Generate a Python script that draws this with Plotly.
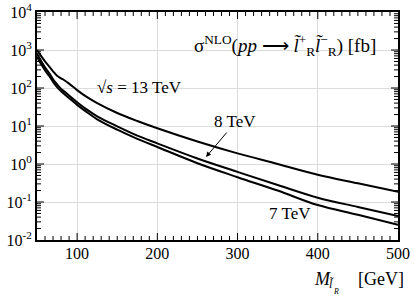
import plotly.graph_objects as go

mass = [50, 55, 60, 65, 70, 75, 80, 85, 90, 100, 110, 125, 150, 175, 200, 250, 300, 350, 400, 450, 500]
sigma_13 = [1000, 700, 500, 370, 275, 210, 180, 155, 130, 88, 62, 40, 22, 13.5, 8.7, 3.9, 1.9, 1.0, 0.52, 0.31, 0.186]
sigma_8 = [800, 520, 350, 250, 170, 125, 95, 78, 63, 42, 29, 18, 9.8, 5.6, 3.5, 1.4, 0.62, 0.28, 0.13, 0.074, 0.043]
sigma_7 = [650, 430, 290, 210, 145, 105, 82, 66, 54, 36, 25, 15, 8.0, 4.6, 2.8, 1.05, 0.45, 0.2, 0.083, 0.046, 0.025]

x_range = [50, 500]
y_range_exp = [-2, 4]
x_ticks = [100, 200, 300, 400, 500]
x_minor = list(range(60, 500, 10))
y_ticks = [1e-2, 1e-1, 1, 10, 100, 1000, 1e4]
y_labels = ["10<sup>-2</sup>", "10<sup>-1</sup>", "10<sup>0</sup>", "10<sup>1</sup>",
            "10<sup>2</sup>", "10<sup>3</sup>", "10<sup>4</sup>"]
y_minor = [m * 10 ** e for e in range(-2, 4) for m in range(2, 10)]

FONT = "'Liberation Serif', 'Times New Roman', Times, serif"
L, R, T, B = 37, 17, 12, 61
PW, PH = 415 - L - R, 301 - T - B

fig = go.Figure()
for ys in (sigma_13, sigma_8, sigma_7):
    fig.add_trace(go.Scatter(x=mass, y=ys, mode="lines", line=dict(color="black", width=2),
                             line_shape="spline", showlegend=False, hoverinfo="skip"))

# inside tick marks on all four sides, built from the tick arrays
def dx(px):
    return px * (x_range[1] - x_range[0]) / PW

def dy(px):
    return px * (y_range_exp[1] - y_range_exp[0]) / PH

ylo, yhi = 10 ** y_range_exp[0], 10 ** y_range_exp[1]
tx, ty = [], []
for v, ln in [(v, 4) for v in x_minor if v not in x_ticks] + [(v, 7) for v in x_ticks[:-1]]:
    tx += [v, v, None, v, v, None]
    ty += [ylo, ylo * 10 ** dy(ln), None, yhi, yhi / 10 ** dy(ln), None]
for v, ln in [(v, 4) for v in y_minor] + [(v, 7) for v in y_ticks[1:-1]]:
    tx += [x_range[0], x_range[0] + dx(ln), None, x_range[1], x_range[1] - dx(ln), None]
    ty += [v, v, None, v, v, None]
fig.add_trace(go.Scatter(x=tx, y=ty, mode="lines", line=dict(color="black", width=1),
                         showlegend=False, hoverinfo="skip"))

fig.update_layout(
    width=415, height=301,
    margin=dict(l=L, r=R, t=T, b=B, autoexpand=False),
    paper_bgcolor="white", plot_bgcolor="white",
    font=dict(family=FONT, size=15, color="black"),
    xaxis=dict(range=x_range, tickvals=x_ticks, ticks="", showline=True, linewidth=2,
               linecolor="black", mirror=True, showgrid=True, gridcolor="#dcdcdc", gridwidth=1,
               zeroline=False, automargin=False, ticklabelstandoff=-2,
               tickfont=dict(size=16, family=FONT)),
    yaxis=dict(type="log", range=y_range_exp, tickvals=y_ticks, ticktext=y_labels, ticks="",
               showline=True, linewidth=2, linecolor="black", mirror=True, showgrid=True,
               gridcolor="#dcdcdc", gridwidth=1, zeroline=False, automargin=False,
               tickfont=dict(size=16, family=FONT)),
)

ann = [
    dict(x=378, y=45, text="σ<sup>NLO</sup>(<i>pp</i> ⟶ <i>l̃</i><sup>+</sup><sub>R</sub><i>l̃</i><sup>−</sup><sub>R</sub>) [fb]",
         xanchor="right", yanchor="middle", font=dict(size=19)),
    dict(x=95, y=88, text="√<i>s</i> = 13 TeV", xanchor="left", yanchor="middle", font=dict(size=17)),
    dict(x=212, y=122, text="8 TeV", xanchor="left", yanchor="middle", font=dict(size=17)),
    dict(x=267, y=213, text="7 TeV", xanchor="left", yanchor="middle", font=dict(size=17)),
    dict(x=312, y=279, text="<i>M</i>", xanchor="left", yanchor="middle", font=dict(size=18)),
    dict(x=327, y=284, text="<i>l̃</i>", xanchor="left", yanchor="middle", font=dict(size=12)),
    dict(x=331, y=291, text="<i>R</i>", xanchor="left", yanchor="middle", font=dict(size=8)),
    dict(x=406, y=279, text="[GeV]", xanchor="right", yanchor="middle", font=dict(size=18)),
]
for a in ann:
    a.update(xref="paper", yref="paper", showarrow=False)
    a["x"] = (a["x"] - L) / PW
    a["y"] = 1 - (a["y"] - T) / PH
    a["font"]["family"] = FONT
    fig.add_annotation(**a)

fig.add_annotation(xref="paper", yref="paper",
                   x=(206 - L) / PW, y=1 - (157 - T) / PH,
                   ax=22, ay=-26, axref="pixel", ayref="pixel", text="", showarrow=True,
                   arrowhead=2, arrowsize=1, arrowwidth=1, arrowcolor="black")

fig.write_html("out.html", config={"displayModeBar": False},
               post_script="document.body.style.margin='0';document.body.style.padding='0';")
